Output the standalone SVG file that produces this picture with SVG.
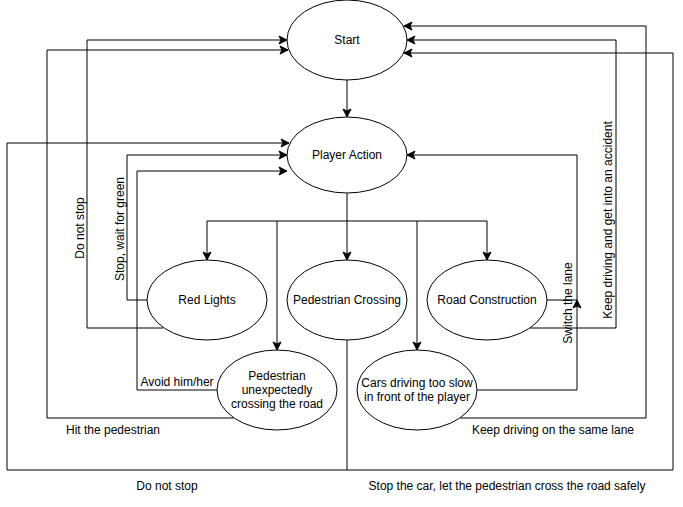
<svg xmlns="http://www.w3.org/2000/svg" width="683" height="507" viewBox="0 0 683 507">
<defs>
<marker id="arr" markerWidth="10" markerHeight="10" refX="9" refY="5" orient="auto" markerUnits="userSpaceOnUse">
<path d="M1,1 L9,5 L1,9 L3,5 z" fill="#000" stroke="#000" stroke-width="1"/>
</marker>
<style>
.n ellipse{fill:#fff;stroke:#000;stroke-width:1}
.n text,.lbl{font-family:"Liberation Sans",Arial,sans-serif;font-size:12px;fill:#000;text-anchor:middle;dominant-baseline:central}
.e path{fill:none;stroke:#000;stroke-width:1;marker-end:url(#arr)}
.e path.plain{marker-end:none}
</style>
</defs>
<rect width="683" height="507" fill="#fff"/>
<g class="e" id="connectors">
<path d="M347,80 L347,117"/>
<path class="plain" d="M347,193 L347,221"/>
<path class="plain" d="M207,221 L487,221"/>
<path d="M207,221 L207,260"/>
<path d="M347,221 L347,260"/>
<path d="M487,221 L487,260"/>
<path d="M277,221 L277,350"/>
<path d="M417,221 L417,350"/>
<path d="M163,328 L87,328 L87,40 L287,40"/>
<path d="M147,300 L127,300 L127,155 L287,155"/>
<path d="M217,390 L137,390 L137,171 L287,171"/>
<path d="M234,418 L47,418 L47,50 L288,50"/>
<path d="M347,340 L347,470 L7,470 L7,143 L289,143"/>
<path d="M347,470 L673,470 L673,53 L404,53"/>
<path d="M460,418 L646,418 L646,26 L404,26"/>
<path d="M530,328 L616,328 L616,40 L407,40"/>
<path d="M547,300 L577,300 L577,155 L407,155"/>
<path d="M477,390 L577,390 L577,300"/>
</g>
<g id="labels">
<text class="lbl" transform="translate(80,228) rotate(-90)">Do not stop</text>
<text class="lbl" transform="translate(120,229) rotate(-90)">Stop, wait for green</text>
<text class="lbl" x="177" y="382">Avoid him/her</text>
<text class="lbl" x="113" y="430">Hit the pedestrian</text>
<text class="lbl" x="167" y="486">Do not stop</text>
<text class="lbl" x="507" y="486">Stop the car, let the pedestrian cross the road safely</text>
<text class="lbl" x="553" y="430">Keep driving on the same lane</text>
<text class="lbl" transform="translate(608,220) rotate(-90)">Keep driving and get into an accident</text>
<text class="lbl" transform="translate(568,303) rotate(-90)">Switch the lane</text>
</g>
<g class="n" id="start"><ellipse cx="347" cy="40" rx="60" ry="40"/><text x="347" y="40">Start</text></g>
<g class="n" id="player-action"><ellipse cx="347" cy="155" rx="60" ry="38"/><text x="347" y="155">Player Action</text></g>
<g class="n" id="red-lights"><ellipse cx="207" cy="300" rx="60" ry="40"/><text x="207" y="300">Red Lights</text></g>
<g class="n" id="pedestrian-crossing"><ellipse cx="347" cy="300" rx="60" ry="40"/><text x="347" y="300">Pedestrian Crossing</text></g>
<g class="n" id="road-construction"><ellipse cx="487" cy="300" rx="60" ry="40"/><text x="487" y="300">Road Construction</text></g>
<g class="n" id="pedestrian-unexpected"><ellipse cx="277" cy="390" rx="60" ry="40"/><text x="277" y="376">Pedestrian</text><text x="277" y="390">unexpectedly</text><text x="277" y="404">crossing the road</text></g>
<g class="n" id="cars-slow"><ellipse cx="417" cy="390" rx="60" ry="40"/><text x="417" y="383">Cars driving too slow</text><text x="417" y="397">in front of the player</text></g>
</svg>
